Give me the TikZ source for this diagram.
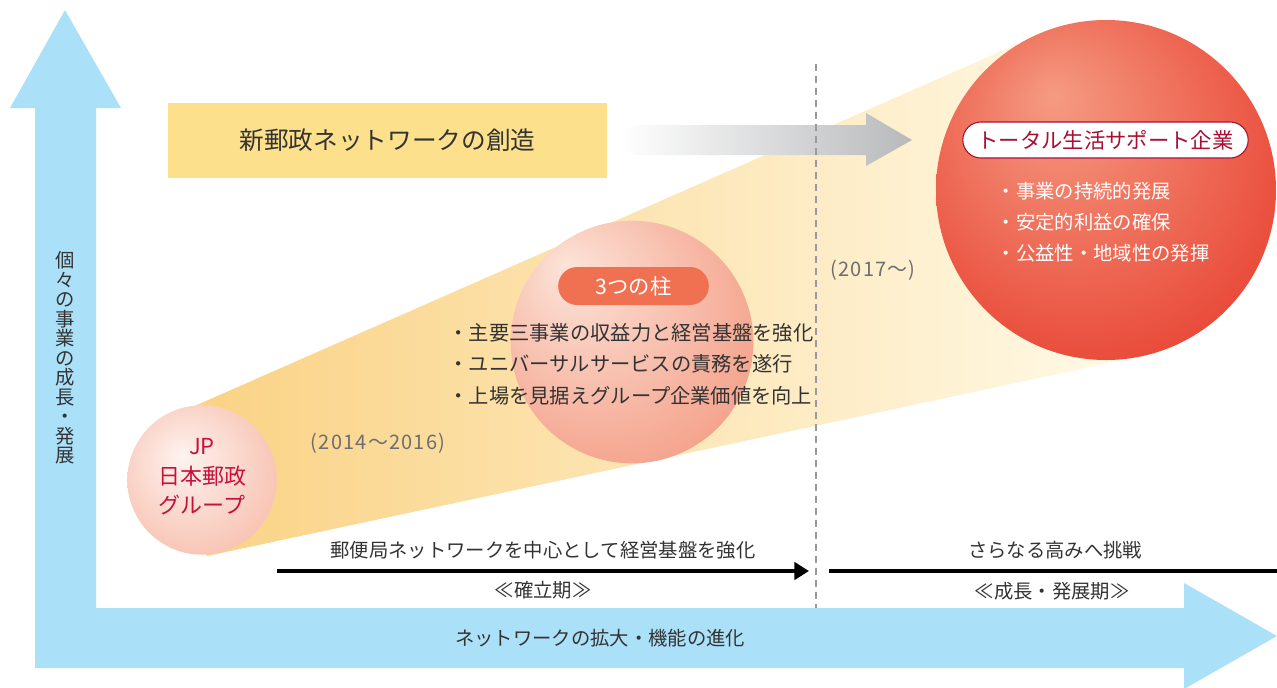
\documentclass[tikz,border=0pt]{standalone}
\usepackage{fontspec}
\setmainfont{Noto Sans CJK JP}
\usetikzlibrary{arrows.meta,shapes.misc}
\definecolor{axisblue}{HTML}{ABE0F9}
\definecolor{boxyellow}{HTML}{FDE08B}
\definecolor{coneleft}{HTML}{FAD284}
\definecolor{conemid}{HTML}{FDEDC0}
\definecolor{coneright}{HTML}{FFFAE8}
\definecolor{arrowgray}{HTML}{B8B9BB}
\definecolor{smallin}{HTML}{FEF3EF}
\definecolor{smallout}{HTML}{F8C3B3}
\definecolor{midin}{HTML}{FCE4D9}
\definecolor{midout}{HTML}{F4A18A}
\definecolor{bigin}{HTML}{F59B82}
\definecolor{bigout}{HTML}{E73C2C}
\definecolor{pillred}{HTML}{F07052}
\definecolor{jpred}{HTML}{C8103C}
\definecolor{darktext}{HTML}{333333}
\definecolor{yeargray}{HTML}{6D6E70}
\pgfdeclareradialshading{smallball}{\pgfpoint{-7bp}{8bp}}{color(0bp)=(smallin); color(30bp)=(smallout); color(50bp)=(smallout)}
\pgfdeclareradialshading{midball}{\pgfpoint{-14bp}{16bp}}{color(0bp)=(midin); color(34bp)=(midout); color(50bp)=(midout)}
\pgfdeclareradialshading{bigball}{\pgfpoint{-8bp}{14bp}}{color(0bp)=(bigin); color(37bp)=(bigout); color(50bp)=(bigout)}
\begin{document}
\begin{tikzpicture}[x=0.75pt,y=-0.75pt,
    ball/.style ={circle, inner sep=0pt, shade},
    pill/.style ={rounded rectangle, inner sep=0pt},
    label/.style ={text=darktext, font=\fontsize{14.5}{18}\selectfont},
    year/.style ={text=yeargray, font=\fontsize{15}{18}\selectfont\addfontfeatures{LetterSpace=6}},
    period/.style ={line width=3pt, -{Triangle[length=11pt,width=13pt]}}]
   \useasboundingbox (0,0) rectangle (1277,687);
   \clip (0,0) rectangle (1277,687);
   % axes
   \fill[axisblue] (35,108) -- (10,108) -- (65,10) -- (121,108) -- (96,108) -- (96,608)
      -- (1184,608) -- (1184,583) -- (1277,636) -- (1184,689) -- (1184,668) -- (35,668) -- cycle;
   % beam
   \shade[left color=coneleft, middle color=conemid, right color=coneright]
      (190,408) -- (1040,34) -- (1142,356) -- (207,556) -- cycle;
   \node[fill=boxyellow, minimum width=329pt, minimum height=56pt,
      font=\fontsize{18.5}{22}\selectfont, text=darktext] (title) at (387.5,140.5) {新郵政ネットワークの創造};
   \shade[left color=white, right color=arrowgray]
      (620,125) -- (866,125) -- (866,113) -- (912,140) -- (866,166) -- (866,155) -- (620,155) -- cycle;
   \draw[yeargray!70, line width=1.2pt, dash pattern=on 5pt off 4pt] (816,64) -- (816,608);
   % circles
   \node[ball, shading=smallball, minimum size=112pt] (jp) at (202,480) {};
   \node[ball, shading=midball, minimum size=182pt] (pillars) at (632,342) {};
   \node[ball, shading=bigball, minimum size=255pt] (goal) at (1106,190) {};
   \node[text=jpred, align=center, font=\fontsize{16.5}{22}\selectfont] (jptext) at (202,477) {JP\\日本郵政\\グループ};
   \node[pill, fill=pillred, text=white, minimum width=113pt, minimum height=28.5pt,
      font=\fontsize{16}{18}\selectfont] (three) at (633.5,286) {3つの柱};
   \node[label, align=left, font=\fontsize{15.2}{23.6}\selectfont] (pointsA) at (631,364)
      {・主要三事業の収益力と経営基盤を強化\\・ユニバーサルサービスの責務を遂行\\・上場を見据えグループ企業価値を向上};
   \node[pill, fill=white, draw=jpred!85!black, line width=0.8pt, text=jpred!85!black,
      minimum width=214pt, minimum height=27pt, font=\fontsize{16}{18}\selectfont] (total) at (1105.5,140) {トータル生活サポート企業};
   \node[text=white, align=left, font=\fontsize{14.5}{23}\selectfont] (pointsB) at (1103,222)
      {・事業の持続的発展\\・安定的利益の確保\\・公益性・地域性の発揮};
   \node[year] (y1) at (378,443) {(2014～2016)};
   \node[year] (y2) at (873,270) {(2017～)};
   % periods
   \coordinate (s1) at (277,571);
   \coordinate (e1) at (809,571);
   \coordinate (s2) at (829,571);
   \coordinate (e2) at (1292,571);
   \draw[period] (s1) -- (e1);
   \draw[period] (s2) -- (e2);
   \node[label] (p1) at (543,550) {郵便局ネットワークを中心として経営基盤を強化};
   \node[label] (p1name) at (543,590) {≪確立期≫};
   \node[label] (p2) at (1055,550) {さらなる高みへ挑戦};
   \node[label] (p2name) at (1052,591) {≪成長・発展期≫};
   \node[label] (xaxis) at (600,638) {ネットワークの拡大・機能の進化};
   \node[label, align=center, font=\fontsize{14.5}{14.6}\selectfont] (yaxis) at (65,358)
      {個\\々\\の\\事\\業\\の\\成\\長\\・\\発\\展};
 \end{tikzpicture}
\end{document}
